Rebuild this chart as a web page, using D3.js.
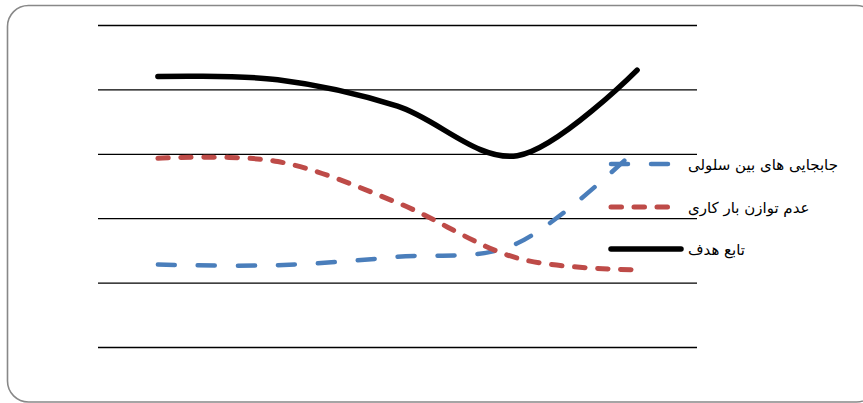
<!DOCTYPE html>
<html><head><meta charset="utf-8">
<script src="https://cdn.jsdelivr.net/npm/d3@7"></script>
<style>html,body{margin:0;padding:0;background:#fff;}svg{display:block;}</style>
</head><body>
<svg id="chart" width="863" height="403"></svg>
<script>
// Data
const categories = ["1", "2", "3", "4", "5"];
const gridTicks = [0, 1, 2, 3, 4, 5];
const seriesNames = ["جابجایی های بین سلولی", "عدم توازن بار کاری", "تابع هدف"];
const cellMigration = [1.28, 1.27, 1.40, 1.61, 3.08];
const loadImbalance = [2.93, 2.88, 2.24, 1.38, 1.20];
const objective = [4.20, 4.15, 3.74, 2.97, 4.30];

const series = [
  {name: seriesNames[0], values: cellMigration, color: "#4a7ebb", width: 4.5, dash: "17,23"},
  {name: seriesNames[1], values: loadImbalance, color: "#be4b48", width: 5, dash: "10.5,12.5"},
  {name: seriesNames[2], values: objective, color: "#000000", width: 5.5, dash: null}
];

const svg = d3.select("#chart");

// frame
svg.append("rect").attr("x", 7.5).attr("y", 5.5).attr("width", 870).attr("height", 396.5)
  .attr("rx", 21).attr("ry", 21).attr("fill", "#fff").attr("stroke", "#888").attr("stroke-width", 1.6);

const x = d3.scaleBand().domain(categories).range([98, 697]);
const y = d3.scaleLinear().domain([0, 5]).range([347, 25]);

// gridlines
const yAxis = d3.axisLeft(y).tickValues(gridTicks).tickSize(-(697 - 98)).tickFormat("");
const g = svg.append("g").attr("transform", "translate(98,0)").call(yAxis);
g.select(".domain").remove();
g.selectAll(".tick line").attr("stroke", "#000").attr("stroke-width", 1.3);

const line = d3.line()
  .x((d, i) => x(categories[i]) + x.bandwidth() / 2)
  .y(d => y(d))
  .curve(d3.curveCardinal.tension(0));

series.forEach(s => {
  svg.append("path").datum(s.values).attr("d", line)
    .attr("fill", "none").attr("stroke", s.color).attr("stroke-width", s.width)
    .attr("stroke-linecap", "round").attr("stroke-linejoin", "round")
    .attr("stroke-dasharray", s.dash);
});

// legend
const legendY = [164, 207, 249];
const legendEnd = [681, 672, 681];
series.forEach((s, i) => {
  svg.append("line").attr("x1", 611).attr("x2", legendEnd[i]).attr("y1", legendY[i]).attr("y2", legendY[i])
    .attr("stroke", s.color).attr("stroke-width", s.width)
    .attr("stroke-linecap", "round").attr("stroke-dasharray", s.dash);
  svg.append("text").attr("x", 688).attr("y", legendY[i] + 5.5)
    .attr("text-anchor", "end").attr("direction", "rtl")
    .attr("font-family", "DejaVu Sans, Noto Sans, sans-serif").attr("font-size", 15)
    .attr("fill", "#000").text(s.name);
});
</script>
</body></html>
